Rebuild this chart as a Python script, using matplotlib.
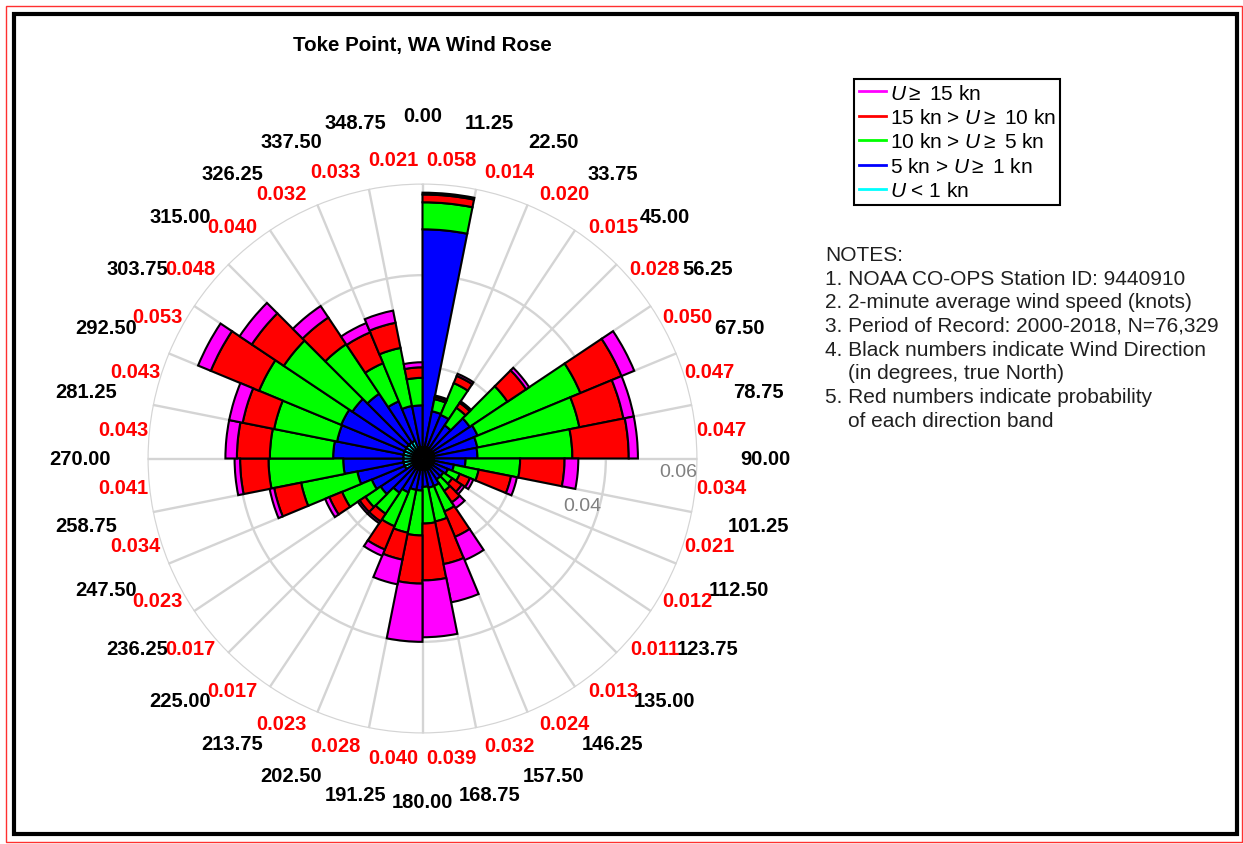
import numpy as np
import matplotlib
matplotlib.use('Agg')
from matplotlib import pyplot, patches, lines

pyplot.rcParams['font.family'] = ['Liberation Sans', 'DejaVu Sans']
pyplot.rcParams['mathtext.fontset'] = 'custom'
pyplot.rcParams['mathtext.rm'] = 'Liberation Sans'
pyplot.rcParams['mathtext.it'] = 'Liberation Sans:italic'

# direction bins (degrees, true north), each 11.25 deg wide, starting at the label
direction_labels = ['0.00', '11.25', '22.50', '33.75', '45.00', '56.25', '67.50', '78.75',
                    '90.00', '101.25', '112.50', '123.75', '135.00', '146.25', '157.50', '168.75',
                    '180.00', '191.25', '202.50', '213.75', '225.00', '236.25', '247.50', '258.75',
                    '270.00', '281.25', '292.50', '303.75', '315.00', '326.25', '337.50', '348.75']
# probability of each direction band (red numbers)
band_probability = [0.058, 0.014, 0.020, 0.015, 0.028, 0.050, 0.047, 0.047,
                    0.034, 0.021, 0.012, 0.011, 0.013, 0.024, 0.032, 0.039,
                    0.040, 0.028, 0.023, 0.017, 0.017, 0.023, 0.034, 0.041,
                    0.043, 0.043, 0.053, 0.048, 0.040, 0.032, 0.033, 0.021]

# speed classes, stacked from the centre outwards
calm = [0.0025, 0.0025, 0.0025, 0.0025, 0.0025, 0.0025, 0.0025, 0.0025,
        0.0025, 0.0025, 0.0025, 0.0025, 0.0025, 0.0025, 0.0025, 0.0025,
        0.0025, 0.0025, 0.0025, 0.0025, 0.0025, 0.0042, 0.0042, 0.0042,
        0.0042, 0.0042, 0.0042, 0.0042, 0.0042, 0.0042, 0.0025, 0.0025]
light = [0.0475, 0.0080, 0.0078, 0.0062, 0.0099, 0.0105, 0.0097, 0.0095,
         0.0069, 0.0045, 0.0035, 0.0030, 0.0030, 0.0040, 0.0040, 0.0037,
         0.0045, 0.0045, 0.0055, 0.0065, 0.0085, 0.0078, 0.0103, 0.0131,
         0.0153, 0.0148, 0.0150, 0.0142, 0.0128, 0.0093, 0.0092, 0.0091]
moderate = [0.0059, 0.0027, 0.0075, 0.0046, 0.0099, 0.0243, 0.0227, 0.0207,
            0.0119, 0.0055, 0.0028, 0.0023, 0.0030, 0.0060, 0.0075, 0.0080,
            0.0098, 0.0095, 0.0080, 0.0055, 0.0040, 0.0070, 0.0125, 0.0163,
            0.0138, 0.0140, 0.0194, 0.0180, 0.0130, 0.0090, 0.0129, 0.0060]
fresh = [0.0017, 0.0005, 0.0017, 0.0013, 0.0049, 0.0097, 0.0098, 0.0123,
         0.0097, 0.0072, 0.0024, 0.0025, 0.0030, 0.0060, 0.0095, 0.0124,
         0.0105, 0.0060, 0.0055, 0.0020, 0.0015, 0.0030, 0.0060, 0.0062,
         0.0072, 0.0070, 0.0114, 0.0084, 0.0070, 0.0073, 0.0056, 0.0023]
strong = [0.0004, 0.0003, 0.0005, 0.0004, 0.0008, 0.0030, 0.0023, 0.0020,
          0.0030, 0.0013, 0.0008, 0.0007, 0.0015, 0.0055, 0.0085, 0.0124,
          0.0127, 0.0055, 0.0015, 0.0005, 0.0005, 0.0010, 0.0010, 0.0012,
          0.0025, 0.0030, 0.0030, 0.0032, 0.0030, 0.0022, 0.0027, 0.0011]

series = [calm, light, moderate, fresh, strong]
series_colors = ['#00ffff', '#0000ff', '#00ff00', '#ff0000', '#ff00ff']
legend_labels = [r'$U \geq$ 15 kn', r'15 kn > $U \geq$ 10 kn', r'10 kn > $U \geq$ 5 kn',
                 r'5 kn > $U \geq$ 1 kn', r'$U$ < 1 kn']
legend_colors = ['#ff00ff', '#ff0000', '#00ff00', '#0000ff', '#00ffff']
radial_ticks = [0.02, 0.04, 0.06]

notes = ['NOTES:',
         '1. NOAA CO-OPS Station ID: 9440910',
         '2. 2-minute average wind speed (knots)',
         '3. Period of Record: 2000-2018, N=76,329',
         '4. Black numbers indicate Wind Direction',
         '    (in degrees, true North)',
         '5. Red numbers indicate probability',
         '    of each direction band']

W, H = 1243, 845
fig = pyplot.figure(figsize=(W / 100, H / 100), dpi=100)

# polar axes placed where the rose sits in the original
cx, cy, rad = 422.5, 459.5, 275
ax = fig.add_axes([(cx - rad) / W, 1 - (cy + rad) / H, 2 * rad / W, 2 * rad / H], projection='polar')
ax.set_theta_zero_location('N')
ax.set_theta_direction(-1)
ax.set_ylim(0, radial_ticks[-1])

angles = np.array([float(d) for d in direction_labels])
theta = np.deg2rad(angles)
width = np.deg2rad(11.25)

ax.set_xticks(theta)
ax.set_xticklabels([])
ax.set_yticks(radial_ticks)
ax.set_yticklabels([])
ax.grid(color='#d4d4d4', linewidth=1.7)
ax.spines['polar'].set_visible(False)
ax.set_axisbelow(True)

bottom = np.zeros(len(angles))
for values, color in zip(series, series_colors):
    ax.bar(theta, values, width=width, bottom=bottom, align='edge', color=color,
           edgecolor='black', linewidth=1.5, zorder=3)
    bottom += np.array(values)

# direction and probability labels round the rose
for ang, lab in zip(angles, direction_labels):
    ax.text(np.deg2rad(ang), 0.0748, lab, ha='center', va='center', fontsize=14.5,
            fontweight='bold', color='black', clip_on=False)
for ang, p in zip(angles, band_probability):
    ax.text(np.deg2rad(ang + 5.625), 0.0655, '%.3f' % p, ha='center', va='center', fontsize=14.5,
            fontweight='bold', color='red', clip_on=False)

ax.text(np.deg2rad(91), 0.0600, '%.2f' % radial_ticks[2], ha='right', va='top', fontsize=14, color='#808080')
ax.text(np.deg2rad(102), 0.0400, '%.2f' % radial_ticks[1], ha='right', va='top', fontsize=14, color='#808080')

fig.text(cx / W, 1 - 45 / H, 'Toke Point, WA Wind Rose', ha='center', va='center',
         fontsize=14.8, fontweight='bold')

handles = [lines.Line2D([], [], color=c, linewidth=2) for c in legend_colors]
leg = fig.legend(handles, legend_labels, loc='upper left', bbox_to_anchor=(854 / W, 1 - 80 / H),
                 frameon=True, fancybox=False, edgecolor='black', framealpha=1, fontsize=15,
                 handlelength=1.3, handletextpad=0.2, borderpad=0.22, labelspacing=0.26,
                 borderaxespad=0)
leg.get_frame().set_linewidth(1.5)

fig.text(825 / W, 1 - 246 / H, '\n'.join(notes), ha='left', va='top', fontsize=15,
         linespacing=1.31, color='#202020')

# page frame
fig.add_artist(patches.Rectangle((14 / W, 1 - 835 / H), 1223 / W, 820 / H, transform=fig.transFigure,
                                 fill=False, edgecolor='black', linewidth=3))
fig.add_artist(patches.Rectangle((6 / W, 1 - 843 / H), 1236 / W, 836 / H, transform=fig.transFigure,
                                 fill=False, edgecolor='#ff3030', linewidth=1))

fig.savefig('out.png', dpi=100)
